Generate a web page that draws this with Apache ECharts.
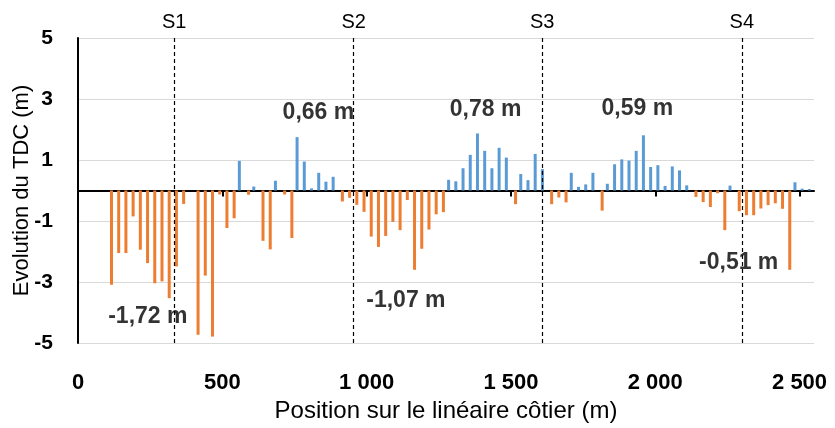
<!DOCTYPE html>
<html><head><meta charset="utf-8">
<script src="https://cdn.jsdelivr.net/npm/echarts@6/dist/echarts.min.js"></script>
<style>html,body{margin:0;padding:0;background:#fff}#c{width:835px;height:428px}</style>
</head><body><div id="c"></div>
<script>
// 25 m bins along the coast (bin centres, m)
const binCenters = [12.5,37.5,62.5,87.5,112.5,137.5,162.5,187.5,212.5,237.5,262.5,287.5,312.5,337.5,362.5,387.5,412.5,437.5,462.5,487.5,
512.5,537.5,562.5,587.5,612.5,637.5,662.5,687.5,712.5,737.5,762.5,787.5,812.5,837.5,862.5,887.5,912.5,937.5,962.5,987.5,
1012.5,1037.5,1062.5,1087.5,1112.5,1137.5,1162.5,1187.5,1212.5,1237.5,1262.5,1287.5,1312.5,1337.5,1362.5,1387.5,1412.5,1437.5,1462.5,1487.5,
1512.5,1537.5,1562.5,1587.5,1612.5,1637.5,1662.5,1687.5,1712.5,1737.5,1762.5,1787.5,1812.5,1837.5,1862.5,1887.5,1912.5,1937.5,1962.5,1987.5,
2012.5,2037.5,2062.5,2087.5,2112.5,2137.5,2162.5,2187.5,2212.5,2237.5,2262.5,2287.5,2312.5,2337.5,2362.5,2387.5,2412.5,2437.5,2462.5,2487.5,
2512.5,2537.5];
const N = null;
// accretion (blue) per bin, m
const gain = [N,N,N,N,N,N,N,N,N,N, N,N,N,N,N,N,N,N,N,N,
N,N,0.97,N,0.13,N,N,0.32,N,N, 1.75,0.95,0.07,0.58,0.29,0.45,N,N,N,N,
N,N,N,N,N,N,N,N,N,N, N,0.35,0.30,0.73,1.17,1.87,1.30,0.73,1.40,1.08,
N,0.54,0.34,1.20,0.70,N,N,N,0.58,0.12, 0.20,0.58,N,0.22,0.86,1.02,0.98,1.30,1.81,0.77,
0.83,0.15,0.79,0.66,0.17,N,N,N,N,N, 0.16,N,N,N,N,N,N,N,N,0.27,
0.06,0.05];
// erosion (orange) per bin, m
const loss = [N,N,N,N,-3.09,-2.05,-2.05,-0.85,-1.94,-2.38, -3.04,-2.98,-3.53,-2.49,-0.44,N,-4.73,-2.79,-4.79,-0.13,
-1.23,-0.91,N,-0.14,N,-1.65,-1.93,N,-0.13,-1.56, N,N,N,N,N,N,-0.36,-0.24,-0.47,-0.70,
-1.51,-1.85,-1.49,-1.03,-1.30,-0.31,-2.60,-1.91,-1.28,-0.78, -0.71,N,N,N,N,N,N,N,N,N,
-0.45,N,N,N,N,-0.45,-0.23,-0.39,N,N, N,N,-0.66,N,N,N,N,N,N,N,
N,N,N,N,N,-0.21,-0.38,-0.54,-0.09,-1.30, N,-0.68,-0.81,-0.81,-0.59,-0.48,-0.42,-0.60,-2.60,N,
N,N];
const xTicks = [0,500,1000,1500,2000,2500];
const sections = ['S1','S2','S3','S4'];
const sectionPos = [333,955,1608,2300];
const notes = ['-1,72 m','0,66 m','-1,07 m','0,78 m','0,59 m','-0,51 m'];
const notePos = [[242,-4.15],[833,2.54],[1136,-3.62],[1412,2.64],[1938,2.67],[2289,-2.38]];

const FF = "'Liberation Sans', Arial, sans-serif";
const fmt = v => v >= 1000 ? Math.floor(v/1000) + ' ' + String(v % 1000).padStart(3,'0') : String(v);

const chart = echarts.init(document.getElementById('c'), null, {renderer:'canvas'});
chart.setOption({
  animation:false,
  backgroundColor:'#fff',
  textStyle:{fontFamily:FF},
  grid:{left:78, right:21, top:38, bottom:85, containLabel:false, outerBoundsMode:'none'},
  xAxis:[
    {type:'value', min:0, max:2550, position:'bottom',
     axisLine:{show:false, onZero:false}, axisTick:{show:false}, splitLine:{show:false},
     axisLabel:{customValues:xTicks, formatter:fmt, fontSize:22, fontWeight:'bold', color:'#000', margin:29, fontFamily:FF},
     name:'Position sur le linéaire côtier (m)', nameLocation:'middle', nameGap:56, nameMoveOverlap:false,
     nameTextStyle:{fontSize:24, color:'#000', fontFamily:FF}},
    {type:'category', data:binCenters, show:false, boundaryGap:true, axisLine:{onZero:false}},
    {type:'value', min:0, max:2550, position:'bottom',
     axisLine:{show:true, onZero:true, lineStyle:{color:'#000', width:2}},
     axisTick:{show:true, customValues:xTicks, length:6, lineStyle:{color:'#000', width:2}},
     axisLabel:{show:false}, splitLine:{show:false}}
  ],
  yAxis:{type:'value', min:-5, max:5, interval:2,
    axisLine:{show:true, onZero:false, lineStyle:{color:'#000', width:2}},
    axisTick:{show:false},
    axisLabel:{fontSize:21, fontWeight:'bold', color:'#000', margin:25, fontFamily:FF},
    splitLine:{lineStyle:{color:'#d9d9d9', width:1}},
    name:'Evolution du TDC (m)', nameLocation:'middle', nameGap:45, nameMoveOverlap:false,
    nameTextStyle:{fontSize:22, color:'#000', fontFamily:FF}},
  series:[
    {type:'bar', name:'gain', xAxisIndex:1, data:gain, barWidth:3, barGap:'-33%', itemStyle:{color:'#5b9bd5'}},
    {type:'bar', name:'loss', xAxisIndex:1, data:loss, barWidth:3, barGap:'-33%', itemStyle:{color:'#ed7d31'}},
    {type:'scatter', xAxisIndex:0, symbolSize:0, silent:true, data:notePos,
     label:{show:true, position:'inside', formatter:p => notes[p.dataIndex], fontSize:23, fontWeight:'bold', color:'#000', textBorderWidth:0, fontFamily:FF},
     markLine:{silent:true, symbol:['none','none'],
       lineStyle:{type:[4,3], color:'#000', width:1.2},
       label:{show:true, position:'end', formatter:'{b}', fontSize:20, color:'#000', distance:6, fontFamily:FF},
       data:sectionPos.map((x,i)=>[{coord:[x,-5], name:sections[i]},{coord:[x,5]}])}
    }
  ]
});
</script></body></html>
